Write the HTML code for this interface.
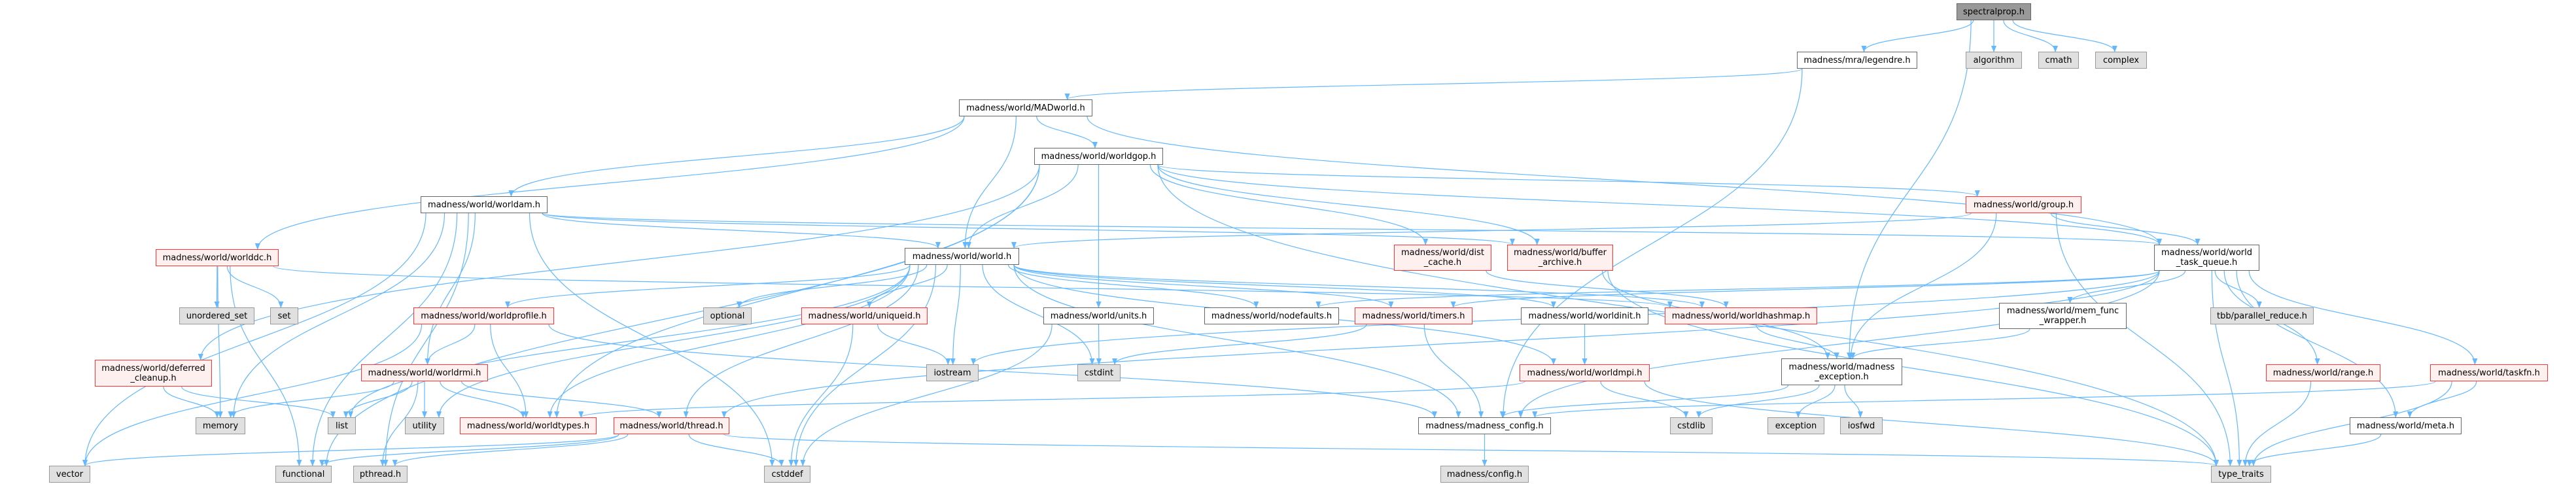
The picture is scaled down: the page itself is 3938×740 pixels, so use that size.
<!DOCTYPE html>
<html><head><meta charset="utf-8">
<style>
html,body{margin:0;padding:0;background:#fff;}
#c{position:relative;width:3938px;height:740px;overflow:hidden;background:#fff;}
.n{position:absolute;box-sizing:border-box;border:1.5px solid #666;background:#fff;font-family:"DejaVu Sans","Liberation Sans",sans-serif;font-size:13px;color:#000;display:flex;align-items:center;justify-content:center;text-align:center;line-height:15px;white-space:nowrap;z-index:2}
.r{border-color:#f33;background:#fff0f0}
.g{border-color:#999;background:#e0e0e0}
.s{border-color:#666;background:#999}
svg{position:absolute;left:0;top:0;z-index:1}
</style></head><body>
<div id="c">
<svg id="sv" width="3938" height="740"><defs><marker id="a" markerWidth="10" markerHeight="8" refX="9" refY="4" orient="auto" markerUnits="userSpaceOnUse"><path d="M0,0 L10,4 L0,8 z" fill="#63b8ff"/></marker></defs><g id="eg" fill="none" stroke="#63b8ff" stroke-width="1.2"></g></svg>
<div class="n s" id="spectralprop" style="left:2991px;top:5px;width:114px;height:26px">spectralprop.h</div>
<div class="n" id="legendre" style="left:2747px;top:79px;width:184px;height:26px">madness/mra/legendre.h</div>
<div class="n g" id="algorithm" style="left:3005px;top:79px;width:86px;height:26px">algorithm</div>
<div class="n g" id="cmath" style="left:3116px;top:79px;width:62px;height:26px">cmath</div>
<div class="n g" id="complex" style="left:3203px;top:79px;width:79px;height:26px">complex</div>
<div class="n" id="MADworld" style="left:1466px;top:152px;width:204px;height:26px">madness/world/MADworld.h</div>
<div class="n" id="worldgop" style="left:1581px;top:226px;width:197px;height:26px">madness/world/worldgop.h</div>
<div class="n" id="worldam" style="left:643px;top:300px;width:194px;height:26px">madness/world/worldam.h</div>
<div class="n r" id="group" style="left:3005px;top:300px;width:177px;height:26px">madness/world/group.h</div>
<div class="n r" id="worlddc" style="left:238px;top:381px;width:188px;height:26px">madness/world/worlddc.h</div>
<div class="n" id="world" style="left:1383px;top:379px;width:175px;height:26px">madness/world/world.h</div>
<div class="n r" id="distcache" style="left:2131px;top:374px;width:149px;height:40px">madness/world/dist<br>_cache.h</div>
<div class="n r" id="buffer" style="left:2304px;top:374px;width:162px;height:40px">madness/world/buffer<br>_archive.h</div>
<div class="n" id="wtq" style="left:3293px;top:374px;width:161px;height:40px">madness/world/world<br>_task_queue.h</div>
<div class="n g" id="unordered" style="left:274px;top:470px;width:115px;height:26px">unordered_set</div>
<div class="n g" id="set" style="left:413px;top:470px;width:43px;height:26px">set</div>
<div class="n r" id="worldprofile" style="left:632px;top:470px;width:215px;height:26px">madness/world/worldprofile.h</div>
<div class="n g" id="optional" style="left:1075px;top:470px;width:74px;height:26px">optional</div>
<div class="n r" id="uniqueid" style="left:1225px;top:470px;width:193px;height:26px">madness/world/uniqueid.h</div>
<div class="n" id="units" style="left:1595px;top:470px;width:169px;height:26px">madness/world/units.h</div>
<div class="n" id="nodefaults" style="left:1841px;top:470px;width:206px;height:26px">madness/world/nodefaults.h</div>
<div class="n r" id="timers" style="left:2071px;top:470px;width:180px;height:26px">madness/world/timers.h</div>
<div class="n" id="worldinit" style="left:2325px;top:470px;width:195px;height:26px">madness/world/worldinit.h</div>
<div class="n r" id="hashmap" style="left:2545px;top:470px;width:233px;height:26px">madness/world/worldhashmap.h</div>
<div class="n" id="memfunc" style="left:3056px;top:463px;width:195px;height:40px">madness/world/mem_func<br>_wrapper.h</div>
<div class="n g" id="tbb" style="left:3379px;top:470px;width:158px;height:26px">tbb/parallel_reduce.h</div>
<div class="n r" id="deferred" style="left:145px;top:550px;width:179px;height:41px">madness/world/deferred<br>_cleanup.h</div>
<div class="n r" id="worldrmi" style="left:552px;top:557px;width:194px;height:26px">madness/world/worldrmi.h</div>
<div class="n g" id="iostream" style="left:1416px;top:557px;width:80px;height:26px">iostream</div>
<div class="n g" id="cstdint" style="left:1647px;top:557px;width:66px;height:26px">cstdint</div>
<div class="n r" id="worldmpi" style="left:2323px;top:557px;width:199px;height:26px">madness/world/worldmpi.h</div>
<div class="n" id="mexc" style="left:2723px;top:548px;width:185px;height:41px">madness/world/madness<br>_exception.h</div>
<div class="n r" id="range" style="left:3464px;top:557px;width:175px;height:26px">madness/world/range.h</div>
<div class="n r" id="taskfn" style="left:3715px;top:557px;width:180px;height:26px">madness/world/taskfn.h</div>
<div class="n g" id="memory" style="left:299px;top:638px;width:76px;height:26px">memory</div>
<div class="n g" id="list" style="left:501px;top:638px;width:43px;height:26px">list</div>
<div class="n g" id="utility" style="left:619px;top:638px;width:60px;height:26px">utility</div>
<div class="n r" id="worldtypes" style="left:703px;top:638px;width:209px;height:26px">madness/world/worldtypes.h</div>
<div class="n r" id="thread" style="left:938px;top:638px;width:177px;height:26px">madness/world/thread.h</div>
<div class="n" id="mconfig" style="left:2168px;top:638px;width:203px;height:26px">madness/madness_config.h</div>
<div class="n g" id="cstdlib" style="left:2553px;top:638px;width:65px;height:26px">cstdlib</div>
<div class="n g" id="exception" style="left:2702px;top:638px;width:87px;height:26px">exception</div>
<div class="n g" id="iosfwd" style="left:2813px;top:638px;width:65px;height:26px">iosfwd</div>
<div class="n" id="meta" style="left:3592px;top:638px;width:171px;height:26px">madness/world/meta.h</div>
<div class="n g" id="vector" style="left:75px;top:712px;width:63px;height:26px">vector</div>
<div class="n g" id="functional" style="left:421px;top:712px;width:86px;height:26px">functional</div>
<div class="n g" id="pthread" style="left:540px;top:712px;width:83px;height:26px">pthread.h</div>
<div class="n g" id="cstddef" style="left:1168px;top:712px;width:71px;height:26px">cstddef</div>
<div class="n g" id="config" style="left:2202px;top:712px;width:135px;height:26px">madness/config.h</div>
<div class="n g" id="typetraits" style="left:3380px;top:712px;width:92px;height:26px">type_traits</div>
</div>
<script>
var E={
spectralprop:["legendre","mexc","algorithm","cmath","complex"],
legendre:["MADworld","mconfig"],
MADworld:["worldam","worlddc","world","worldgop","wtq"],
worldgop:["world","units","group","distcache","buffer","wtq","typetraits","functional","deferred","worldtypes"],
worldam:["worldrmi","world","cstddef","vector","memory","pthread","functional","buffer","wtq"],
worlddc:["unordered","set","memory","functional","hashmap"],
world:["worldprofile","optional","uniqueid","iostream","cstdint","cstddef","list","utility","worldtypes","thread","mconfig","nodefaults","timers","worldinit","hashmap","worldmpi"],
worldprofile:["worldrmi","worldtypes","vector","mconfig"],
deferred:["memory","list"],
worldrmi:["memory","list","pthread","utility","worldtypes","thread"],
thread:["vector","functional","pthread","cstddef","typetraits"],
uniqueid:["iostream","cstddef"],
units:["cstdint","cstddef"],
timers:["cstdint","mconfig"],
worldinit:["worldmpi"],
worldmpi:["worldtypes","cstdlib","typetraits"],
hashmap:["mexc"],
buffer:["mexc","typetraits"],
distcache:["hashmap"],
mexc:["mconfig","cstdlib","exception","iosfwd"],
mconfig:["config"],
group:["world","mexc","typetraits","wtq"],
wtq:["nodefaults","iostream","memfunc","tbb","range","taskfn","meta","typetraits","thread","mconfig","timers"],
memfunc:["mexc"],
range:["typetraits"],
taskfn:["meta","typetraits","mconfig"],
meta:["typetraits"]
};
function box(id){var e=document.getElementById(id);return{l:e.offsetLeft,t:e.offsetTop,w:e.offsetWidth,h:e.offsetHeight};}
var g=document.getElementById("eg"),ns="http://www.w3.org/2000/svg";
for(var s in E){var a=box(s);E[s].forEach(function(t){var b=box(t);
var acx=a.l+a.w/2,bcx=b.l+b.w/2,sy=a.t+a.h,ty=b.t,d;
var sx=acx+(bcx-acx)*0.15;sx=Math.max(a.l+8,Math.min(a.l+a.w-8,sx));
if(ty-sy>15){var tx=bcx+(acx-bcx)*0.05;tx=Math.max(b.l+8,Math.min(b.l+b.w-8,tx));var m=(sy+ty)/2;
d="M"+sx+","+sy+" C"+sx+","+m+" "+tx+","+m+" "+tx+","+ty;}
else{var tx2=bcx<acx?b.l+b.w:b.l,ty2=b.t+b.h/2;d="M"+sx+","+sy+" C"+sx+","+(sy+40)+" "+(tx2+(bcx<acx?60:-60))+","+ty2+" "+tx2+","+ty2;}
var p=document.createElementNS(ns,"path");p.setAttribute("d",d);p.setAttribute("marker-end","url(#a)");g.appendChild(p);});}
</script>
</body></html>
